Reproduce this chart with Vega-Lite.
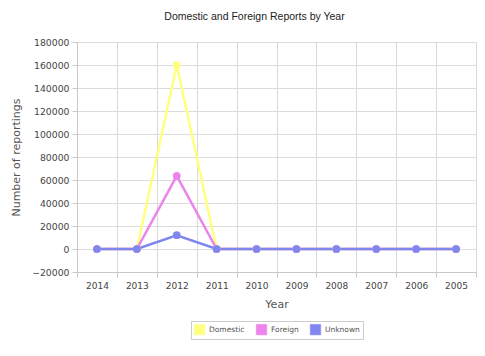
{
  "$schema": "https://vega.github.io/schema/vega-lite/v6.json",
  "width": 399,
  "height": 230,
  "autosize": {"type": "none"},
  "padding": {"left": 77, "top": 42, "right": 9, "bottom": 84},
  "background": "white",
  "title": {
    "text": "Domestic and Foreign Reports by Year",
    "font": "Liberation Sans",
    "fontSize": 10.5,
    "fontWeight": "normal",
    "color": "#222",
    "anchor": "middle",
    "dx": -22,
    "offset": 16
  },
  "data": {
    "values": [
      {"Year": "2014", "Type": "Domestic", "Count": 0},
      {"Year": "2013", "Type": "Domestic", "Count": 0},
      {"Year": "2012", "Type": "Domestic", "Count": 160000},
      {"Year": "2011", "Type": "Domestic", "Count": 0},
      {"Year": "2010", "Type": "Domestic", "Count": 0},
      {"Year": "2009", "Type": "Domestic", "Count": 0},
      {"Year": "2008", "Type": "Domestic", "Count": 0},
      {"Year": "2007", "Type": "Domestic", "Count": 0},
      {"Year": "2006", "Type": "Domestic", "Count": 0},
      {"Year": "2005", "Type": "Domestic", "Count": 0},
      {"Year": "2014", "Type": "Foreign", "Count": 0},
      {"Year": "2013", "Type": "Foreign", "Count": 0},
      {"Year": "2012", "Type": "Foreign", "Count": 63500},
      {"Year": "2011", "Type": "Foreign", "Count": 0},
      {"Year": "2010", "Type": "Foreign", "Count": 0},
      {"Year": "2009", "Type": "Foreign", "Count": 0},
      {"Year": "2008", "Type": "Foreign", "Count": 0},
      {"Year": "2007", "Type": "Foreign", "Count": 0},
      {"Year": "2006", "Type": "Foreign", "Count": 0},
      {"Year": "2005", "Type": "Foreign", "Count": 0},
      {"Year": "2014", "Type": "Unknown", "Count": 0},
      {"Year": "2013", "Type": "Unknown", "Count": 0},
      {"Year": "2012", "Type": "Unknown", "Count": 12000},
      {"Year": "2011", "Type": "Unknown", "Count": 0},
      {"Year": "2010", "Type": "Unknown", "Count": 0},
      {"Year": "2009", "Type": "Unknown", "Count": 0},
      {"Year": "2008", "Type": "Unknown", "Count": 0},
      {"Year": "2007", "Type": "Unknown", "Count": 0},
      {"Year": "2006", "Type": "Unknown", "Count": 0},
      {"Year": "2005", "Type": "Unknown", "Count": 0}
    ]
  },
  "encoding": {
    "x": {
      "field": "Year",
      "type": "ordinal",
      "sort": null,
      "scale": {"type": "band", "paddingInner": 0, "paddingOuter": 0},
      "axis": {
        "title": "Year",
        "labelAngle": 0,
        "tickBand": "extent",
        "grid": true,
        "gridColor": "#d8d8d8",
        "domainColor": "#c8c8c8",
        "tickColor": "#c8c8c8",
        "tickSize": 5,
        "labelFont": "DejaVu Sans",
        "labelFontSize": 9,
        "labelColor": "#444",
        "labelPadding": 4,
        "titleFont": "DejaVu Sans",
        "titleFontSize": 11,
        "titleFontWeight": "normal",
        "titleColor": "#555",
        "titlePadding": 8
      }
    },
    "y": {
      "field": "Count",
      "type": "quantitative",
      "scale": {"domain": [-20000, 180000], "nice": false, "zero": false},
      "axis": {
        "title": "Number of reportings",
        "values": [-20000, 0, 20000, 40000, 60000, 80000, 100000, 120000, 140000, 160000, 180000],
        "format": "d",
        "gridColor": "#dcdcdc",
        "domainColor": "#c8c8c8",
        "tickColor": "#c8c8c8",
        "tickSize": 5,
        "labelFont": "DejaVu Sans",
        "labelFontSize": 9.3,
        "labelColor": "#444",
        "labelPadding": 3,
        "titleFont": "DejaVu Sans",
        "titleFontSize": 11,
        "titleFontWeight": "normal",
        "titleColor": "#555",
        "titlePadding": 10
      }
    },
    "color": {
      "field": "Type",
      "type": "nominal",
      "scale": {"domain": ["Domestic", "Foreign", "Unknown"], "range": ["#ffff80", "#ec84ec", "#7f87ee"]},
      "legend": {
        "title": null,
        "orient": "none",
        "legendX": 114,
        "legendY": 279,
        "direction": "horizontal",
        "symbolType": "square",
        "symbolSize": 110,
        "symbolStrokeWidth": 0.5,
        "symbolStrokeColor": "#aaa",
        "labelFont": "DejaVu Sans",
        "labelFontSize": 7.5,
        "labelColor": "#555",
        "columnPadding": 10,
        "strokeColor": "#cccccc",
        "padding": 3
      }
    }
  },
  "layer": [
    {"mark": {"type": "line", "strokeWidth": 2.5}},
    {"mark": {"type": "point", "filled": true, "size": 60, "opacity": 1}}
  ]
}
